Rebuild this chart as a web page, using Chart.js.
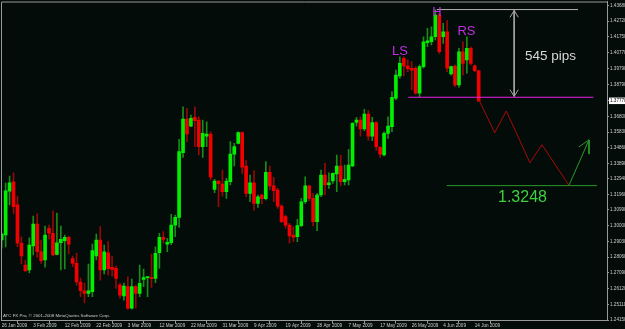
<!DOCTYPE html>
<html>
<head>
<meta charset="utf-8">
<script src="https://cdn.jsdelivr.net/npm/chart.js@4.4.0/dist/chart.umd.min.js"></script>
<style>
  html, body { margin: 0; padding: 0; background: #030c08; }
  #wrap { width: 625px; height: 329px; }
</style>
</head>
<body>
<div id="wrap"><canvas id="myChart"></canvas></div>
<script>
//--------------------- Data ---------------------

// daily candles, 26 Jan 2009 .. 16 Jun 2009 (one per bar index)
const opens = [1.2912, 1.2943, 1.3215, 1.3273, 1.3130, 1.2892, 1.2757, 1.2726, 1.2875, 1.3011,
  1.2839, 1.2788, 1.2985, 1.2954, 1.2823, 1.2895, 1.2908, 1.2929, 1.2796, 1.2767,
  1.2651, 1.2597, 1.2581, 1.2591, 1.2813, 1.2912, 1.2726, 1.2833, 1.2743, 1.2736,
  1.2632, 1.2564, 1.2622, 1.2488, 1.2622, 1.2581, 1.2668, 1.2678, 1.2680, 1.2674,
  1.2833, 1.2929, 1.2887, 1.2895, 1.3005, 1.3053, 1.3455, 1.3664, 1.3620, 1.3674,
  1.3658, 1.3492, 1.3558, 1.3571, 1.3227, 1.3279, 1.3260, 1.3212, 1.3274, 1.3446,
  1.3513, 1.3579, 1.3372, 1.3202, 1.3268, 1.3140, 1.3192, 1.3169, 1.3333, 1.3248,
  1.3223, 1.3123, 1.3057, 1.3005, 1.2943, 1.2933, 1.3001, 1.3150, 1.3248, 1.3171,
  1.3026, 1.3192, 1.3316, 1.3256, 1.3279, 1.3322, 1.3372, 1.3274, 1.3285, 1.3372,
  1.3643, 1.3658, 1.3602, 1.3695, 1.3558, 1.3641, 1.3488, 1.3440, 1.3575, 1.3616,
  1.3793, 1.3931, 1.4041, 1.3993, 1.3979, 1.3979, 1.3824, 1.3989, 1.4138, 1.4144,
  1.4175, 1.4310, 1.4175, 1.4206, 1.3944, 1.3993, 1.3875, 1.4082, 1.4031, 1.4103,
  1.3995, 1.3964];
const highs = [1.2955, 1.3266, 1.3310, 1.3330, 1.3185, 1.2931, 1.2788, 1.2925, 1.3061, 1.3074,
  1.2912, 1.2999, 1.3005, 1.3094, 1.3080, 1.2999, 1.2943, 1.2937, 1.2813, 1.2831,
  1.2676, 1.2645, 1.2763, 1.2887, 1.2949, 1.2995, 1.2881, 1.2902, 1.2813, 1.2750,
  1.2645, 1.2645, 1.2684, 1.2670, 1.2632, 1.2757, 1.2732, 1.2685, 1.2825, 1.2870,
  1.2954, 1.2964, 1.2923, 1.3072, 1.3067, 1.3538, 1.3740, 1.3730, 1.3689, 1.3740,
  1.3678, 1.3658, 1.3647, 1.3585, 1.3289, 1.3280, 1.3347, 1.3295, 1.3523, 1.3513,
  1.3585, 1.3585, 1.3405, 1.3316, 1.3343, 1.3192, 1.3198, 1.3399, 1.3372, 1.3302,
  1.3233, 1.3130, 1.3067, 1.3016, 1.2995, 1.3041, 1.3171, 1.3305, 1.3250, 1.3202,
  1.3202, 1.3347, 1.3389, 1.3330, 1.3330, 1.3440, 1.3440, 1.3378, 1.3476, 1.3641,
  1.3674, 1.3678, 1.3724, 1.3716, 1.3674, 1.3647, 1.3492, 1.3585, 1.3678, 1.3834,
  1.3968, 1.4051, 1.4051, 1.4031, 1.4020, 1.3989, 1.4000, 1.4175, 1.4228, 1.4237,
  1.4344, 1.4321, 1.4259, 1.4275, 1.3993, 1.4000, 1.4103, 1.4144, 1.4175, 1.4113,
  1.4000, 1.3968];
const lows = [1.2862, 1.2869, 1.3130, 1.3078, 1.2870, 1.2763, 1.2715, 1.2707, 1.2819, 1.2806,
  1.2767, 1.2744, 1.2918, 1.2813, 1.2819, 1.2726, 1.2732, 1.2825, 1.2746, 1.2632,
  1.2560, 1.2521, 1.2560, 1.2560, 1.2788, 1.2663, 1.2701, 1.2695, 1.2688, 1.2612,
  1.2550, 1.2539, 1.2481, 1.2483, 1.2488, 1.2560, 1.2622, 1.2560, 1.2618, 1.2647,
  1.2736, 1.2892, 1.2839, 1.2883, 1.2933, 1.2991, 1.3426, 1.3523, 1.3616, 1.3492,
  1.3440, 1.3426, 1.3492, 1.3285, 1.3206, 1.3119, 1.3185, 1.3171, 1.3254, 1.3372,
  1.3509, 1.3326, 1.3181, 1.3150, 1.3098, 1.3115, 1.3136, 1.3161, 1.3223, 1.3150,
  1.3109, 1.3020, 1.2985, 1.2892, 1.2902, 1.2902, 1.2995, 1.3140, 1.3156, 1.2999,
  1.2970, 1.3181, 1.3192, 1.3233, 1.3264, 1.3212, 1.3248, 1.3254, 1.3254, 1.3368,
  1.3620, 1.3558, 1.3591, 1.3533, 1.3529, 1.3471, 1.3426, 1.3434, 1.3544, 1.3585,
  1.3782, 1.3917, 1.3931, 1.3958, 1.3844, 1.3819, 1.3802, 1.3979, 1.4113, 1.4124,
  1.4155, 1.4072, 1.4134, 1.3958, 1.3937, 1.3865, 1.3861, 1.3937, 1.3948, 1.4000,
  1.3958, 1.3772];
const closes = [1.2949, 1.3218, 1.3268, 1.3119, 1.2892, 1.2813, 1.2721, 1.2881, 1.3011, 1.2839,
  1.2783, 1.2943, 1.2954, 1.2819, 1.2895, 1.2916, 1.2929, 1.2887, 1.2767, 1.2651,
  1.2597, 1.2581, 1.2597, 1.2846, 1.2912, 1.2726, 1.2839, 1.2734, 1.2730, 1.2674,
  1.2570, 1.2626, 1.2488, 1.2622, 1.2581, 1.2643, 1.2678, 1.2684, 1.2672, 1.2829,
  1.2929, 1.2916, 1.2898, 1.3005, 1.3053, 1.3461, 1.3664, 1.3571, 1.3668, 1.3653,
  1.3492, 1.3575, 1.3571, 1.3302, 1.3279, 1.3262, 1.3212, 1.3279, 1.3446, 1.3492,
  1.3579, 1.3364, 1.3202, 1.3268, 1.3140, 1.3181, 1.3169, 1.3333, 1.3248, 1.3218,
  1.3123, 1.3026, 1.3005, 1.2937, 1.2929, 1.3001, 1.3150, 1.3248, 1.3171, 1.3026,
  1.3192, 1.3316, 1.3254, 1.3268, 1.3327, 1.3372, 1.3274, 1.3289, 1.3378, 1.3637,
  1.3658, 1.3602, 1.3695, 1.3558, 1.3641, 1.3492, 1.3446, 1.3575, 1.3620, 1.3799,
  1.3937, 1.4010, 1.3993, 1.3976, 1.3968, 1.3824, 1.3989, 1.4144, 1.4150, 1.4175,
  1.4310, 1.4082, 1.4206, 1.3979, 1.3989, 1.3875, 1.4082, 1.4010, 1.4103, 1.4010,
  1.3964, 1.3777];

const dateLabels = ["26 Jan 2009", "3 Feb 2009", "12 Feb 2009", "22 Feb 2009", "3 Mar 2009",
  "12 Mar 2009", "22 Mar 2009", "31 Mar 2009", "9 Apr 2009", "19 Apr 2009", "28 Apr 2009",
  "7 May 2009", "17 May 2009", "26 May 2009", "4 Jun 2009", "14 Jun 2009"];
const dateTickIndex = [0, 8, 16, 24, 32, 40, 48, 56, 64, 72, 80, 88, 96, 104, 112, 120];

const yTickLabels = ["1.43680", "1.42720", "1.41750", "1.40770", "1.39790", "1.38790", "1.37770",
  "1.36800", "1.35830", "1.34860", "1.33890", "1.32940", "1.31960", "1.30990", "1.30000",
  "1.29030", "1.28060", "1.27090", "1.26120", "1.25110", "1.24150"];
const currentPrice = "1.37770";

// drawn objects (bar index, price)
const headLevel = [{ x: 110.4, y: 1.4344 }, { x: 146.2, y: 1.4344 }];
const neckline = [{ x: 103.15, y: 1.3799 }, { x: 150.1, y: 1.3799 }];
const targetLevel = [{ x: 112.9, y: 1.3250 }, { x: 151.0, y: 1.3250 }];
const pipsArrow = [{ x: 130, y: 1.4338 }, { x: 130, y: 1.3805 }];
const pipsHeadTop = [{ x: 128.95, y: 1.4296 }, { x: 130, y: 1.4338 }, { x: 131.05, y: 1.4296 }];
const pipsHeadBottom = [{ x: 128.95, y: 1.3846 }, { x: 130, y: 1.3805 }, { x: 131.05, y: 1.3846 }];
const projection = [{ x: 121, y: 1.3786 }, { x: 125.07, y: 1.3579 }, { x: 128, y: 1.3714 },
  { x: 134, y: 1.3392 }, { x: 137.05, y: 1.3504 }, { x: 143.9, y: 1.3252 }];
const rebound = [{ x: 143.9, y: 1.3252 }, { x: 148.98, y: 1.3534 }];
const reboundHead = [{ x: 146.4, y: 1.3490 }, { x: 148.98, y: 1.3534 }, { x: 148.98, y: 1.3446 }];

//--------------------- Chart ---------------------

const bg = "#030c08";
const axisColor = "#9a9a9a";
const textColor = "#cfcfcf";
const fontFamily = "'Liberation Sans', Arial, sans-serif";
const isUp = (i) => closes[i] >= opens[i];

const lineSet = (data, color) => ({
  type: "line",
  data: data,
  borderColor: color,
  borderWidth: 1,
  pointRadius: 0,
  fill: false,
  tension: 0,
  order: 0,
});

const bgPlugin = {
  id: "bg",
  beforeDraw(chart) {
    const c = chart.ctx;
    c.save();
    c.fillStyle = bg;
    c.fillRect(0, 0, chart.width, chart.height);
    c.restore();
  },
  afterDraw(chart) {
    const { ctx: c, chartArea: a } = chart;
    c.save();
    c.strokeStyle = axisColor;
    c.lineWidth = 1;
    c.beginPath();
    c.moveTo(a.left + 0.5, a.bottom);
    c.lineTo(a.left + 0.5, a.top + 0.5);
    c.lineTo(a.right, a.top + 0.5);
    c.stroke();
    c.restore();
  },
};

// text objects placed through the scales
const textPlugin = {
  id: "texts",
  afterDatasetsDraw(chart) {
    const c = chart.ctx;
    const x = chart.scales.x, y = chart.scales.y;
    const put = (txt, ix, price, size, color) => {
      c.font = size + "px " + fontFamily;
      c.fillStyle = color;
      c.textBaseline = "middle";
      c.textAlign = "left";
      c.fillText(txt, x.getPixelForValue(ix), y.getPixelForValue(price));
    };
    c.save();
    put("LS", 99.0, 1.4084, 13, "#c02fe0");
    put("H", 109.2, 1.4329, 13, "#c02fe0");
    put("RS", 115.6, 1.4209, 13, "#c02fe0");
    put("545 pips", 132.75, 1.4055, 13.5, "#d8d8d8");
    put("1.3248", 125.9, 1.3173, 16, "#3ed03e");
    c.font = "4.4px " + fontFamily;
    c.fillStyle = textColor;
    c.fillText("ATC FX Pro, \u00a9 2001-2008 MetaQuotes Software Corp.", chart.chartArea.left + 2, chart.chartArea.bottom - 5);
    c.restore();
  },
};

const ctx = document.getElementById("myChart").getContext("2d");
const myChart = new Chart(ctx, {
  type: "bar",
  data: {
    datasets: [
      {
        label: "body",
        data: opens.map((o, i) => ({ x: i, y: [o, closes[i]] })),
        backgroundColor: (c) => (isUp(c.dataIndex) ? "#00f000" : "#f00000"),
        barThickness: 3,
        minBarLength: 1,
        grouped: false,
        order: 1,
      },
      {
        label: "wick",
        data: highs.map((h, i) => ({ x: i, y: [lows[i], h] })),
        backgroundColor: (c) => (isUp(c.dataIndex) ? "#1a8a1a" : "#980808"),
        barThickness: 1,
        grouped: false,
        order: 2,
      },
      lineSet(headLevel, "#b4b4b4"),
      lineSet(pipsArrow, "#a8a8a8"),
      lineSet(pipsHeadTop, "#a8a8a8"),
      lineSet(pipsHeadBottom, "#a8a8a8"),
      lineSet(neckline, "#e81ee8"),
      lineSet(projection, "#a80a0a"),
      lineSet(rebound, "#2a9a2a"),
      lineSet(reboundHead, "#2a9a2a"),
      lineSet(targetLevel, "#2a9a2a"),
    ],
  },
  options: {
    responsive: true,
    maintainAspectRatio: false,
    animation: false,
    layout: { padding: { left: 1, top: 1.5, right: 0, bottom: 0 } },
    plugins: { legend: { display: false }, tooltip: { enabled: false } },
    scales: {
      x: {
        type: "linear",
        min: -0.18,
        max: 153.55,
        offset: false,
        border: { color: axisColor },
        grid: { drawOnChartArea: false, tickLength: 3, color: axisColor },
        afterBuildTicks: (s) => { s.ticks = dateTickIndex.map((v) => ({ value: v })); },
        ticks: {
          autoSkip: false,
          maxRotation: 0,
          minRotation: 0,
          align: "start",
          padding: -1,
          color: textColor,
          font: { family: fontFamily, size: 4.6 },
          callback: (v, i) => dateLabels[i],
        },
        afterFit: (s) => { s.height = 8.5; s.paddingLeft = 0; s.paddingRight = 0; },
      },
      y: {
        position: "right",
        min: 1.2412,
        max: 1.4394,
        border: { color: axisColor },
        grid: { drawOnChartArea: false, tickLength: 2, color: axisColor },
        afterBuildTicks: (s) => { s.ticks = yTickLabels.map((v) => ({ value: parseFloat(v) })); },
        ticks: {
          padding: 1,
          color: (c) => (yTickLabels[c.index] === currentPrice ? "#000" : textColor),
          showLabelBackdrop: (c) => yTickLabels[c.index] === currentPrice,
          backdropColor: "#ffffff",
          backdropPadding: { left: 1, right: 4, top: 0.5, bottom: 0.5 },
          font: { family: fontFamily, size: 4.6 },
          callback: (v, i) => yTickLabels[i],
        },
        afterFit: (s) => { s.width = 18; s.paddingTop = 0; s.paddingBottom = 0; },
      },
    },
  },
  plugins: [bgPlugin, textPlugin],
});
</script>
</body>
</html>
